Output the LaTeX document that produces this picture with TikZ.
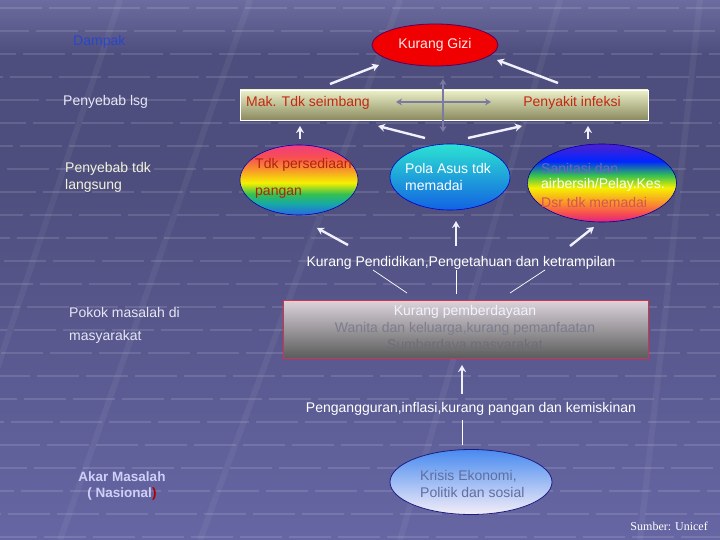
\documentclass[tikz,border=0pt]{standalone}
\usepackage{fontspec}
\setmainfont{Liberation Sans}
\newfontfamily\serifu{Liberation Serif}
\usetikzlibrary{shapes.geometric,arrows.meta}
\definecolor{bgT}{HTML}{6C6CA0}
\definecolor{bgM}{HTML}{4E4E7E}
\definecolor{bgB}{HTML}{6666A4}
\definecolor{lbl}{HTML}{E6E6F6}
\definecolor{lblY}{HTML}{F2F2DC}
\definecolor{dampak}{HTML}{2A46C8}
\definecolor{redtx}{HTML}{C42810}
\definecolor{garrc}{HTML}{7A7AA2}
\definecolor{rbBlue}{HTML}{2A66E6}
\definecolor{rbTeal}{HTML}{16A8A8}
\definecolor{rbGreen}{HTML}{34C050}
\definecolor{rbYellow}{HTML}{F6F000}
\definecolor{rbOrange}{HTML}{F89A28}
\definecolor{rbRed}{HTML}{F85050}
\definecolor{rbPink}{HTML}{F03C80}
\definecolor{rbPurple}{HTML}{5020D0}
\definecolor{rbMag}{HTML}{E02080}
\pgfdeclareverticalshading{bgshade}{100bp}{color(0bp)=(bgB); color(25bp)=(bgB); color(58bp)=(bgM); color(70bp)=(bgM); color(75bp)=(bgT); color(100bp)=(bgT)}
\pgfdeclareverticalshading{rainA}{100bp}{color(0bp)=(rbBlue); color(25bp)=(rbBlue); color(33bp)=(rbTeal); color(40bp)=(rbGreen); color(48bp)=(rbYellow); color(57bp)=(rbOrange); color(66bp)=(rbRed); color(75bp)=(rbPink); color(100bp)=(rbPink)}
\pgfdeclareverticalshading{rainB}{100bp}{color(0bp)=(rbMag); color(25bp)=(rbMag); color(31bp)=(rbRed); color(38bp)=(rbOrange); color(47bp)=(rbYellow); color(55bp)=(rbGreen); color(64bp)=(blue!85!cyan); color(75bp)=(rbPurple); color(100bp)=(rbPurple)}
\begin{document}
\begin{tikzpicture}[x=1pt,y=-1pt,
  font=\fontsize{14}{16}\selectfont,
  warr/.style={draw=white!94!blue, line width=2.4pt, -{Stealth[length=7pt,width=8pt]}},
  garr/.style={draw=garrc, line width=2.2pt, {Stealth[length=6pt,width=7pt]}-{Stealth[length=6pt,width=7pt]}},
  thinln/.style={draw=white, line width=0.7pt},
  lab/.style={anchor=west, inner sep=0pt, text=lbl},
  ell/.style={ellipse, inner sep=0pt}]
\path[shading=bgshade] (0,0) rectangle (720,540);
\useasboundingbox (0,0) rectangle (720,540);
% floor texture
\foreach \r in {0,...,23}{
  \draw[white, opacity=0.12, line width=2.2pt, dash pattern=on 42pt off 7pt, dash phase={\r*13}] (0,{8+\r*23}) -- (720,{8+\r*23});
}
\foreach \a/\b in {-60/120, 60/250, 200/400, 400/560, 640/700, 820/760}{
  \draw[white, opacity=0.05, line width=6pt] (\a,540) -- (\b,0);
}
% left labels
\node[anchor=west, inner sep=0pt, text=dampak] (dampak) at (73,42) {Dampak};
\node[lab] (plsg) at (63,102) {Penyebab lsg};
\node[lab, text=lblY, align=left, font=\fontsize{14}{17}\selectfont] (ptdk) at (65,177) {Penyebab tdk\\langsung};
\node[lab] (pokok1) at (69,312) {Pokok masalah di};
\node[lab] (pokok2) at (69,337) {masyarakat};
\node[inner sep=0pt, text=lbl!90!blue, font=\bfseries\fontsize{13.5}{16}\selectfont, align=center] (akar) at (122,486) {Akar Masalah\\( Nasional\textcolor{red!70!black}{)}};
% top
\node[ell, fill=red!94!black, draw=violet!70!black, line width=0.8pt, minimum width=126pt, minimum height=42pt, text=white!92!red] (gizi) at (435,45) {Kurang Gizi};
\node[rectangle, minimum width=408pt, minimum height=30pt, top color={rgb,255:red,236;green,240;blue,200}, bottom color={rgb,255:red,138;green,138;blue,94}, draw=white, line width=0.8pt] (bar) at (444,105) {};
\node[lab, text=redtx] (mak) at (246,103) {Mak. Tdk seimbang};
\node[inner sep=0pt, text=redtx] (infeksi) at (572,103) {Penyakit infeksi};
% gray cross
\coordinate (hL) at (396,102); \coordinate (hR) at (491,102);
\coordinate (vT) at (443,79); \coordinate (vB) at (443,132);
\draw[garr] (hL) -- (hR);
\draw[garr] (vT) -- (vB);
% arrows to gizi
\coordinate (a1s) at (330,84); \coordinate (a1e) at (379,65);
\coordinate (a2s) at (558,83); \coordinate (a2e) at (497,60);
\draw[warr] (a1s) -- (a1e);
\draw[warr] (a2s) -- (a2e);
% middle ellipses
\node[ell, shading=rainA, draw=blue!70!black, line width=0.6pt, minimum width=118pt, minimum height=70pt] (tdk) at (299,180) {};
\node[lab, text=redtx!90!black] (tdk1) at (255,165) {Tdk persediaan};
\node[lab, text=redtx!90!black] (tdk2) at (255,193) {pangan};
\node[ell, top color={rgb,255:red,44;green,226;blue,210}, bottom color={rgb,255:red,18;green,98;blue,226}, draw=blue!80!black, line width=0.6pt, minimum width=120pt, minimum height=66pt] (pola) at (450,177) {};
\node[lab, text=white, align=left, font=\fontsize{14}{17}\selectfont] (polat) at (405,177) {Pola Asus tdk\\memadai};
\node[ell, shading=rainB, draw=blue!60!black, line width=0.6pt, minimum width=149pt, minimum height=78pt] (sani) at (602,183) {};
\node[lab, text={rgb,255:red,110;green,100;blue,200}] (sani1) at (541,168) {Sanitasi dan};
\node[lab, text=white!92!yellow] (sani2) at (541,185) {airbersih/Pelay.Kes.};
\node[lab, text={rgb,255:red,214;green,84;blue,84}] (sani3) at (541,202) {Dsr tdk memadai};
% arrows to bar
\coordinate (b1s) at (300,139); \coordinate (b1e) at (300,126);
\coordinate (b2s) at (425,138); \coordinate (b2e) at (378,126);
\coordinate (b3s) at (468,138); \coordinate (b3e) at (522,126);
\coordinate (b4s) at (588,139); \coordinate (b4e) at (588,126);
\draw[warr] (b1s) -- (b1e);
\draw[warr] (b2s) -- (b2e);
\draw[warr] (b3s) -- (b3e);
\draw[warr] (b4s) -- (b4e);
% Kurang pendidikan
\node[inner sep=0pt, text=white] (didik) at (461,263) {Kurang Pendidikan,Pengetahuan dan ketrampilan};
\coordinate (c1s) at (348,245); \coordinate (c1e) at (317,228);
\coordinate (c2s) at (456,246); \coordinate (c2e) at (456,221);
\coordinate (c3s) at (570,246); \coordinate (c3e) at (594,227);
\draw[warr] (c1s) -- (c1e);
\draw[warr] (c2s) -- (c2e);
\draw[warr] (c3s) -- (c3e);
% box
\node[rectangle, minimum width=365pt, minimum height=58pt, top color={rgb,255:red,220;green,212;blue,220}, bottom color={rgb,255:red,92;green,92;blue,92}, draw={rgb,255:red,214;green,50;blue,70}, line width=0.9pt] (box) at (465.5,329) {};
\node[inner sep=0pt, text=white!95!blue] (box1) at (465,312) {Kurang pemberdayaan};
\node[inner sep=0pt, text={rgb,255:red,124;green,124;blue,142}] (box2) at (465,329) {Wanita dan keluarga,kurang pemanfaatan};
\node[inner sep=0pt, text={rgb,255:red,112;green,108;blue,120}] (box3) at (465,346) {Sumberdaya masyarakat};
\coordinate (d1s) at (373,270); \coordinate (d1e) at (407,293);
\coordinate (d2s) at (456,270); \coordinate (d2e) at (456,294);
\coordinate (d3s) at (545,270); \coordinate (d3e) at (510,293);
\draw[thinln] (d1s) -- (d1e);
\draw[thinln] (d2s) -- (d2e);
\draw[thinln] (d3s) -- (d3e);
% bottom
\coordinate (e1s) at (462,394); \coordinate (e1e) at (462,365);
\draw[warr] (e1s) -- (e1e);
\node[inner sep=0pt, text=white] (peng) at (471,409) {Pengangguran,inflasi,kurang pangan dan kemiskinan};
\coordinate (f1s) at (462,420); \coordinate (f1e) at (462,445);
\draw[thinln] (f1s) -- (f1e);
\node[ell, top color={rgb,255:red,72;green,138;blue,240}, bottom color={rgb,255:red,244;green,238;blue,248}, draw={rgb,255:red,30;green,30;blue,130}, line width=0.8pt, minimum width=162pt, minimum height=65pt] (krisis) at (471,482) {};
\node[lab, text={rgb,255:red,96;green,110;blue,160}, align=left, font=\fontsize{14}{17}\selectfont] (krisist) at (420,484) {Krisis Ekonomi,\\Politik dan sosial};
\node[anchor=east, inner sep=0pt, text=white, font=\serifu\fontsize{12}{14}\selectfont] (sumber) at (708,526) {Sumber: Unicef};
\end{tikzpicture}
\end{document}
